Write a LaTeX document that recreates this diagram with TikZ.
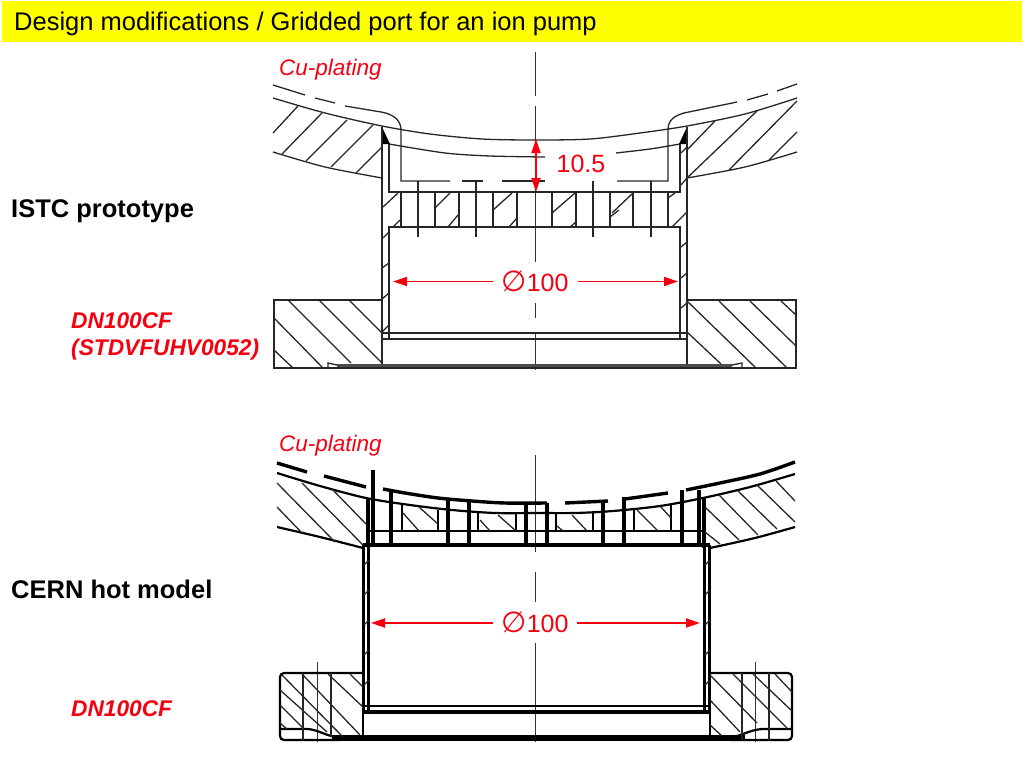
\documentclass[tikz,border=0pt]{standalone}
\usepackage{fontspec}
\setmainfont{Liberation Sans}
\newfontfamily\symfont{DejaVu Sans}
\usetikzlibrary{arrows.meta}
\definecolor{titleyellow}{RGB}{255,255,0}
\definecolor{dimred}{RGB}{245,0,15}
\newcommand{\borelabel}{{\fontsize{29}{30}\selectfont\symfont ∅}100}
\tikzset{
    thinline/.style={line width=1.3pt, black!85},
    midline/.style={line width=2.2pt, black},
    heavyline/.style={line width=3.4pt, black},
    axisline/.style={line width=1pt, black!80},
    dimline/.style={line width=1.9pt, dimred, {Triangle[length=14pt,width=9pt]}-{Triangle[length=14pt,width=9pt]}},
    dimarrow/.style={line width=1.9pt, dimred, -{Triangle[length=14pt,width=9pt]}},
    dimlabel/.style={text=dimred, anchor=base, font=\fontsize{25}{27}\selectfont, inner sep=0pt},
    platelabel/.style={text=dimred, anchor=base west, inner sep=0pt, font=\fontsize{22.5}{24}\selectfont\itshape},
    typelabel/.style={anchor=base west, inner sep=0pt, font=\fontsize{25.5}{27}\selectfont\bfseries},
    flangelabel/.style={text=dimred, anchor=base west, inner sep=0pt, font=\fontsize{22.7}{24}\selectfont\bfseries\itshape},
}
\begin{document}
\begin{tikzpicture}[x=1pt, y=-1pt]
    \useasboundingbox (0,0) rectangle (1024,768);
    % Title bar
    \fill[titleyellow] (2,1) rectangle (1022,42);
    \node[anchor=base west, inner sep=0pt, font=\fontsize{25.5}{27}\selectfont] (title) at (14,31) {Design modifications / Gridded port for an ion pump};

    % Upper drawing: axis
    \foreach \a/\b in {52/96, 106/262, 303/318, 332/370} {
        \draw[axisline] (535,\a) -- (535,\b);
    }
    % Upper drawing: plating line
    \foreach \a/\b/\c/\d in {273/85/305/95, 315/98/335/103, 747/100/768/94, 777/91/797/84} {
        \draw[thinline] (\a,\b) -- (\c,\d);
    }
    \draw[thinline] (345,106) -- (381,112) .. controls (393,114) and (401,120) .. (401,130) -- (401,181) -- (450,181);
    \draw[thinline] (462,181) -- (483,181);
    \draw[thinline] (502,181) -- (545,181);
    \draw[thinline] (617,181) -- (668,181) -- (668,130) .. controls (668,120) and (674,116) .. (684,113) -- (737,102);
    % Upper drawing: chamber wall
    \draw[thinline] plot[smooth] coordinates {(273,98) (325,113) (382,126) (430,134) (482,139) (535,140) (590,139) (640,133) (687,126) (745,114) (797,98)};
    \draw[thinline] plot[smooth] coordinates {(389,144) (445,153) (490,156) (545,157)};
    \draw[thinline] plot[smooth] coordinates {(616,153) (650,149) (680,144)};
    \draw[thinline] plot[smooth] coordinates {(273,152) (325,167) (382,178)};
    \draw[thinline] plot[smooth] coordinates {(687,178) (745,167) (797,152)};
    \fill[black] (382,127) -- (382,144) -- (390,144) -- cycle;
    \fill[black] (687,127) -- (687,144) -- (679,144) -- cycle;
    % Upper drawing: port body
    \draw[thinline] (382,127) -- (382,364);
    \draw[thinline] (687,127) -- (687,364);
    \draw[thinline] (389,144) -- (389,192) -- (680,192) -- (680,144);
    \draw[thinline] (389,339) -- (389,227) -- (680,227) -- (680,339);
    \draw[thinline] (382,333) -- (687,333);
    \draw[thinline] (382,339) -- (687,339);
    \foreach \x in {401,435,459,493,517,552,576,610,633,668} {
        \draw[thinline] (\x,192) -- (\x,227);
    }
    \foreach \x in {418,476,593,651} {
        \draw[thinline] (\x,181) -- (\x,237);
    }
    % Upper drawing: flanges
    \draw[thinline] (382,300) -- (274,300) -- (274,368) -- (796,368) -- (796,300) -- (687,300);
    \fill[black!70] (337,364) rectangle (732,367);
    \draw[thinline] (328,368) -- (328,363) -- (337,365);
    \draw[thinline] (742,368) -- (742,363) -- (732,365);
    % Upper drawing: hatching
    \foreach \a/\b/\c/\d in {
        273/133/298/106, 282/154/322/113, 306/161/347/120, 331/167/373/125, 356/173/382/147,
        687/150/715/121, 687/178/757/111, 729/170/797/101, 769/160/797/132,
        383/207/398/193, 435/208/450/193, 493/210/512/193, 552/213/575/193, 612/213/633/193, 668/198/675/193,
        383/238/389/232, 393/227/400/220, 448/227/458/215, 509/227/517/218, 570/227/576/222, 610/217/619/210, 672/227/687/212,
        382/268/389/263, 382/299/389/293, 382/332/389/325,
        681/247/687/242, 681/278/687/273, 681/308/687/303, 681/153/687/147, 681/185/687/178,
        288/300/351/363, 319/300/382/363, 349/300/382/333, 274/318/323/368, 274/350/293/368,
        687/301/756/368, 719/301/787/368, 750/301/796/346, 781/301/796/315, 687/332/721/364} {
        \draw[thinline] (\a,\b) -- (\c,\d);
    }
    % Upper drawing: dimensions
    \coordinate (gaptop) at (536,139);
    \coordinate (gapbot) at (536,192);
    \coordinate (borelefta) at (393,281.5);
    \coordinate (boreleftb) at (493,281.5);
    \coordinate (borerighta) at (578,281.5);
    \coordinate (borerightb) at (678,281.5);
    \draw[dimline] (gaptop) -- (gapbot);
    \draw[dimarrow] (boreleftb) -- (borelefta);
    \draw[dimarrow] (borerighta) -- (borerightb);
    \node[dimlabel] (gaptext) at (581,172) {10.5};
    \node[dimlabel] (boretext) at (535,291) {\borelabel};

    % Lower drawing: axis
    \foreach \a/\b in {455/552, 572/602, 643/742} {
        \draw[axisline] (535,\a) -- (535,\b);
    }
    \draw[axisline] (317,662) -- (317,742);
    \draw[axisline] (755,662) -- (755,742);
    % Lower drawing: plating line
    \foreach \a/\b/\c/\d in {277/463/307/472, 324/476/366/487, 565/503/608/501, 625/499/668/493} {
        \draw[heavyline] (\a,\b) -- (\c,\d);
    }
    \draw[heavyline] plot[smooth] coordinates {(383,489) (405,493) (438,498) (472,501) (505,503) (547,503)};
    \draw[heavyline] plot[smooth] coordinates {(686,490) (720,483) (760,474) (795,462)};
    % Lower drawing: chamber wall
    \draw[midline] plot[smooth] coordinates {(277,473) (320,486) (366,498) (410,505) (452,510) (495,513) (535,513) (575,513) (613,511) (660,506) (703,498) (750,487) (795,474)};
    \draw[midline] plot[smooth] coordinates {(277,527) (320,537) (363,548)};
    \draw[midline] plot[smooth] coordinates {(710,548) (755,538) (795,527)};
    % Lower drawing: grid
    \draw[heavyline] (363,545) -- (710,545);
    \draw[midline] (368,531) -- (703,531);
    \foreach \x/\a/\b in {368/498/545, 373/470/545, 391/490/545, 448/500/545, 469/502/545, 526/504/545, 547/503/545, 603/501/545, 624/497/545, 682/490/545, 699/490/545, 704/497/548} {
        \draw[heavyline] (\x,\a) -- (\x,\b);
    }
    \foreach \x/\a in {402/505, 438/510, 478/513, 516/514, 556/513, 593/513, 634/510, 671/505} {
        \draw[midline] (\x,\a) -- (\x,531);
    }
    % Lower drawing: port body
    \draw[heavyline] (363.5,545) -- (363.5,712);
    \draw[heavyline] (368.5,545) -- (368.5,710);
    \draw[heavyline] (704.5,545) -- (704.5,710);
    \draw[heavyline] (709.5,545) -- (709.5,712);
    \foreach \y in {560,590,...,700} {
        \draw[thinline] (364,\y+5) -- (369,\y);
        \draw[thinline] (705,\y+5) -- (710,\y);
    }
    \draw[midline] (363,706) -- (710,706);
    \draw[heavyline] (363,712) -- (710,712);
    \draw[midline] (363,712) -- (363,736);
    \draw[midline] (710,712) -- (710,736);
    % Lower drawing: flanges
    \draw[midline, rounded corners=4pt] (363,673) -- (280,673) -- (280,740) -- (340,740);
    \draw[midline, rounded corners=4pt] (710,673) -- (792,673) -- (792,740) -- (730,740);
    \draw[midline] (280,729) -- (308,729) .. controls (318,730) and (325,735) .. (335,737);
    \draw[midline] (792,729) -- (762,729) .. controls (750,730) and (743,735) .. (733,737);
    \fill[black] (332,735.2) rectangle (745,740.8);
    \foreach \x/\y in {303/740, 331/737, 742/740, 769/740} {
        \draw[thinline] (\x,673) -- (\x,\y);
    }
    % Lower drawing: hatching
    \foreach \a/\b/\c/\d in {
        277/483/335/542, 302/483/363/545, 332/489/366/524, 277/507/302/533,
        403/513/419/531, 419/507/438/524, 480/520/490/531, 498/515/516/531,
        557/526/563/531, 572/515/587/531, 637/510/658/531, 660/506/671/518,
        705/507/739/540, 719/495/758/535, 738/491/777/529, 757/485/795/522, 776/481/795/501, 705/532/720/544,
        302/674/360/735, 328/674/363/707, 350/674/363/687, 282/675/343/737, 280/690/327/732, 280/705/303/728, 280/723/287/729,
        710/675/757/723, 710/700/740/732, 733/674/787/728, 753/674/792/711, 775/674/792/692, 710/725/722/736} {
        \draw[thinline] (\a,\b) -- (\c,\d);
    }
    % Lower drawing: dimensions
    \coordinate (lowlefta) at (371,623);
    \coordinate (lowleftb) at (493,623);
    \coordinate (lowrighta) at (577,623);
    \coordinate (lowrightb) at (700,623);
    \draw[dimarrow] (lowleftb) -- (lowlefta);
    \draw[dimarrow] (lowrighta) -- (lowrightb);
    \node[dimlabel] (lowboretext) at (535,632) {\borelabel};

    % Labels
    \node[platelabel] (plateup) at (279,75.5) {Cu-plating};
    \node[platelabel] (platelow) at (279,451.5) {Cu-plating};
    \node[typelabel] (istc) at (11,217) {ISTC prototype};
    \node[typelabel] (cern) at (11,598) {CERN hot model};
    \node[flangelabel] (dnup) at (71,328) {DN100CF};
    \node[flangelabel] (dncode) at (71,355) {(STDVFUHV0052)};
    \node[flangelabel] (dnlow) at (71,716) {DN100CF};
\end{tikzpicture}
\end{document}
